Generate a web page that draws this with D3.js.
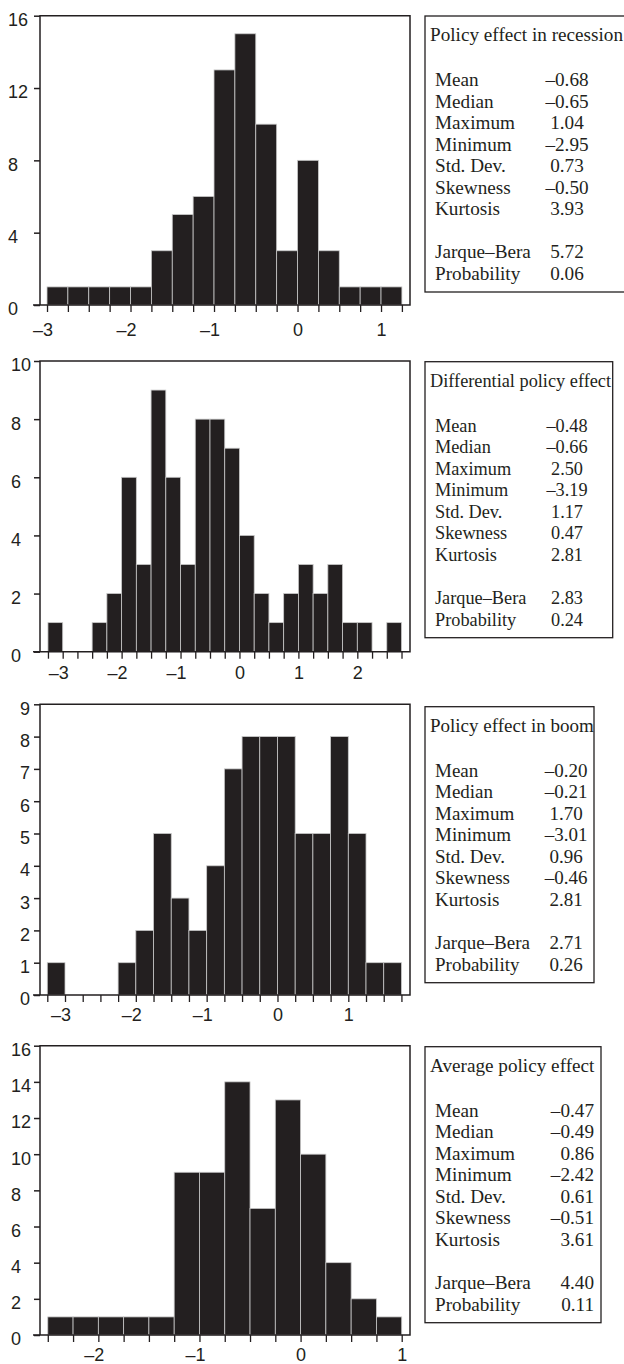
<!DOCTYPE html>
<html>
<head>
<meta charset="utf-8">
<script src="https://cdn.jsdelivr.net/npm/d3@7"></script>
<style>
  body { margin: 0; background: #fff; }
  svg { display: block; font-family: "Liberation Serif", "Times New Roman", serif; }
</style>
</head>
<body>
<script>
// histogram data (bin width 0.25, counts)
const titles = ["Policy effect in recession", "Differential policy effect", "Policy effect in boom", "Average policy effect"];
const binWidth = 0.25;
const binStarts = [-3, -3.25, -3.25, -2.5];
const recessionCounts = [1, 1, 1, 1, 1, 3, 5, 6, 13, 15, 10, 3, 8, 3, 1, 1, 1];
const differentialCounts = [1, 0, 0, 1, 2, 6, 3, 9, 6, 3, 8, 8, 7, 4, 2, 1, 2, 3, 2, 3, 1, 1, 0, 1];
const boomCounts = [1, 0, 0, 0, 1, 2, 5, 3, 2, 4, 7, 8, 8, 8, 5, 5, 8, 5, 1, 1];
const averageCounts = [1, 1, 1, 1, 1, 9, 9, 14, 7, 13, 10, 4, 2, 1];
const yMax = [16, 10, 9, 16];
const yStep = [4, 2, 1, 2];

// summary statistics
const statLabels = ["Mean", "Median", "Maximum", "Minimum", "Std. Dev.", "Skewness", "Kurtosis", "", "Jarque\u2013Bera", "Probability"];
const recessionStats = [-0.68, -0.65, 1.04, -2.95, 0.73, -0.50, 3.93, null, 5.72, 0.06];
const differentialStats = [-0.48, -0.66, 2.50, -3.19, 1.17, 0.47, 2.81, null, 2.83, 0.24];
const boomStats = [-0.20, -0.21, 1.70, -3.01, 0.96, -0.46, 2.81, null, 2.71, 0.26];
const averageStats = [-0.47, -0.49, 0.86, -2.42, 0.61, -0.51, 3.61, null, 4.40, 0.11];

const allCounts = [recessionCounts, differentialCounts, boomCounts, averageCounts];
const allStats = [recessionStats, differentialStats, boomStats, averageStats];

// page geometry
const width = 624, height = 1364;
const frameLeft = 40, frameRight = 410;
const layout = [
  {top: 15.7, bottom: 305, xDomain: [-3.084, 1.347], labelX: 8, xLabelY: 31, boxTop: 16, boxRight: 632, boxFont: 19.2, valueX: 567, anchor: "middle"},
  {top: 361, bottom: 651.7, xDomain: [-3.385, 2.894], labelX: 11, xLabelY: 27, boxTop: 361.7, boxRight: 612.7, boxFont: 18.3, valueX: 567, anchor: "middle"},
  {top: 704.3, bottom: 995, xDomain: [-3.353, 1.871], labelX: 20, xLabelY: 26, boxTop: 706.7, boxRight: 594, boxFont: 19, valueX: 566, anchor: "middle"},
  {top: 1045.7, bottom: 1335, xDomain: [-2.577, 1.082], labelX: 11, xLabelY: 26, boxTop: 1046.7, boxRight: 601, boxFont: 19.2, valueX: 594, anchor: "end"}
];
const ink = "#231f20";

const dash = s => s.replace(/[-\u2212]/g, "\u2013");
const fmt2 = d3.format(".2f");

const svg = d3.select("body").append("svg")
  .attr("width", width)
  .attr("height", height)
  .attr("viewBox", [0, 0, width, height]);

svg.append("rect").attr("width", width).attr("height", height).attr("fill", "#fff");

allCounts.forEach((counts, i) => drawPanel(i, counts));

function drawPanel(i, counts) {
  const L = layout[i];
  const g = svg.append("g");

  const x = d3.scaleLinear().domain(L.xDomain).range([frameLeft, frameRight]);
  const y = d3.scaleLinear().domain([0, yMax[i]]).range([L.bottom, L.top]);

  const bins = counts.map((c, k) => ({x0: binStarts[i] + k * binWidth, x1: binStarts[i] + (k + 1) * binWidth, n: c}));

  g.append("g")
    .selectAll("rect")
    .data(bins.filter(b => b.n > 0))
    .join("rect")
    .attr("x", d => x(d.x0))
    .attr("width", d => x(d.x1) - x(d.x0))
    .attr("y", d => y(d.n))
    .attr("height", d => y(0) - y(d.n))
    .attr("fill", ink)
    .attr("stroke", "#c8c8c8")
    .attr("stroke-width", 0.8);

  // y axis, labels left aligned
  const yAxis = g.append("g")
    .attr("transform", `translate(${frameLeft},0)`)
    .call(d3.axisLeft(y)
      .tickValues(d3.range(0, yMax[i] + 0.001, yStep[i]))
      .tickSize(6)
      .tickSizeOuter(0)
      .tickFormat(d3.format("d")));
  yAxis.select(".domain").remove();
  yAxis.selectAll("line").attr("stroke", ink).attr("stroke-width", 1.5);
  yAxis.selectAll("text")
    .attr("text-anchor", "start")
    .attr("x", L.labelX - frameLeft)
    .attr("dy", "0.55em")
    .attr("font-size", 18)
    .attr("font-family", null)
    .attr("fill", ink);

  // x axis, minor ticks every bin edge; the digit sits on the tick
  const xStart = binStarts[i];
  const xEnd = binStarts[i] + counts.length * binWidth;
  const xAxis = g.append("g")
    .attr("transform", `translate(0,${L.bottom})`)
    .call(d3.axisBottom(x)
      .tickValues(d3.range(xStart, xEnd + 0.001, binWidth))
      .tickSize(7)
      .tickSizeOuter(0)
      .tickFormat(d => Number.isInteger(d) ? dash(d3.format("d")(d)) : ""));
  xAxis.select(".domain").remove();
  xAxis.selectAll("line").attr("stroke", ink).attr("stroke-width", 1.3);
  xAxis.selectAll("text")
    .attr("y", L.xLabelY)
    .attr("dy", null)
    .attr("dx", d => d < 0 ? "-0.25em" : null)
    .attr("font-size", 18)
    .attr("font-family", null)
    .attr("fill", ink);

  // frame
  g.append("path")
    .attr("d", `M${frameLeft - 7},${L.bottom}H${frameRight}V${L.top}H${frameLeft}V${L.bottom}`)
    .attr("fill", "none")
    .attr("stroke", ink)
    .attr("stroke-width", 1.5);

  // statistics box
  const boxLeft = 425, boxH = 276;
  const box = svg.append("g").attr("font-size", L.boxFont).attr("fill", ink);
  box.append("rect")
    .attr("x", boxLeft)
    .attr("y", L.boxTop)
    .attr("width", L.boxRight - boxLeft)
    .attr("height", boxH)
    .attr("fill", "#fff")
    .attr("stroke", ink)
    .attr("stroke-width", 1.3);
  box.append("text")
    .attr("x", boxLeft + 5)
    .attr("y", L.boxTop + 25)
    .text(titles[i]);

  const row = d3.scaleLinear().domain([0, 9]).range([L.boxTop + 70, L.boxTop + 264]);
  box.selectAll("text.lab")
    .data(statLabels)
    .join("text")
    .attr("class", "lab")
    .attr("x", boxLeft + 10)
    .attr("y", (d, k) => row(k))
    .text(d => d);
  box.selectAll("text.val")
    .data(allStats[i])
    .join("text")
    .attr("class", "val")
    .attr("x", L.valueX)
    .attr("y", (d, k) => row(k))
    .attr("text-anchor", L.anchor)
    .text(d => d == null ? "" : dash(fmt2(d)));
}
</script>
</body>
</html>
